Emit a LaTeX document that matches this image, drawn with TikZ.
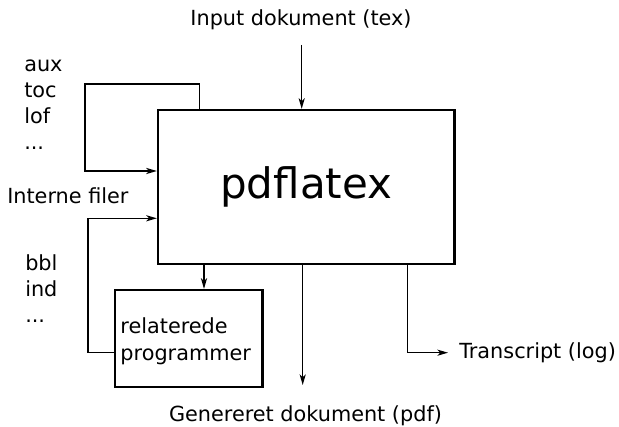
\documentclass[tikz,border=0pt]{standalone}
\usepackage{fontspec}
\setmainfont{DejaVu Sans}
\usetikzlibrary{arrows.meta,positioning}
\tikzset{
    box/.style ={
        draw=black,
        line width=1.7pt,
        inner sep=0pt
    },
    txt/.style ={
        font=\fontsize{15.6}{20.25}\selectfont,
        inner sep=0pt
    },
    wire/.style ={
        line width=0.95pt
    },
    arr/.style ={
        wire,
        -{Stealth[length=8pt,width=4.6pt,inset=2.2pt]}
    }
}

\begin{document}
\begin{tikzpicture}[x=0.75pt,y=-0.75pt]
    \useasboundingbox (0,0) rectangle (619,427);
    \node[box,minimum width=222.4pt,minimum height=115.5pt,
          font=\fontsize{31.5}{36}\selectfont] (pdflatex) at (306.25,187) {pdflatex};
    \node[box,txt,minimum width=110.6pt,minimum height=72.75pt,text height=15.7pt,
          text width=102.4pt,align=left] (related) at (188.75,338.5) {relaterede\\programmer};
    \node[txt,anchor=base] (input) at (301,26) {Input dokument (tex)};
    \node[txt,anchor=base] (output) at (305.5,422) {Genereret dokument (pdf)};
    \node[txt,anchor=west,inner xsep=8.25pt] (translog) at (448,352.7) {Transcript (log)};
    \node[txt,anchor=base west] (interne) at (7,204) {Interne filer};
    \foreach \name/\label/\y in {aux/aux/72,toc/toc/98,lof/lof/124,dotsa/{...}/150}{
        \node[txt,anchor=base west] (\name) at (24,\y) {\label};
    }
    \foreach \name/\label/\y in {bbl/bbl/271,ind/ind/297,dotsb/{...}/323}{
        \node[txt,anchor=base west] (\name) at (25,\y) {\label};
    }
    \coordinate (inputtail) at (301.7,45);
    \coordinate (outputtip) at (302.7,385);
    \coordinate (logturn) at (407.3,352.7);
    \coordinate (reltap) at (204,0);
    \coordinate (auxloop) at (85,84);
    \coordinate (bblloop) at (88,218.3);
    \draw[arr] (inputtail) -- (inputtail |- pdflatex.north);
    \draw[arr] (outputtip |- pdflatex.south) -- (outputtip);
    \draw[arr] (logturn |- pdflatex.south) -- (logturn) -- (translog.west);
    \draw[arr] (reltap |- pdflatex.south) -- (reltap |- related.north);
    \draw[arr] ([xshift=32.25pt]pdflatex.north west) |- (auxloop) |- (pdflatex.west |- 0,171);
    \draw[arr] (related.west |- logturn) -| (bblloop) -- (bblloop -| pdflatex.west);
\end{tikzpicture}
\end{document}
